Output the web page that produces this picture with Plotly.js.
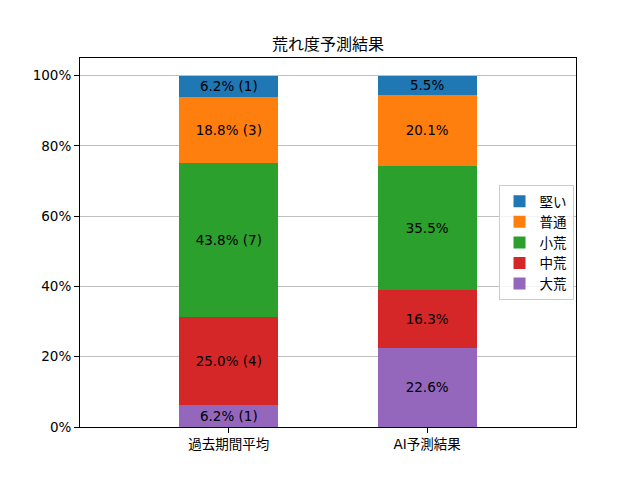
<!DOCTYPE html>
<html>
<head>
<meta charset="utf-8">
<script src="https://cdn.plot.ly/plotly-3.0.1.min.js"></script>
<style>
  body { margin: 0; background: #fff; }
  #chart { width: 640px; height: 480px; }
</style>
</head>
<body>
<div id="chart"></div>
<script>
// categories and series (bottom to top of the stack)
const categories = ["過去期間平均", "AI予測結果"];
const classes = ["大荒", "中荒", "小荒", "普通", "堅い"];
const colors = ["#9467bd", "#d62728", "#2ca02c", "#ff7f0e", "#1f77b4"];

// percent per class: [past average, AI prediction]
const pastPct = [6.2, 25.0, 43.8, 18.8, 6.2];
const pastCount = [1, 4, 7, 3, 1];
const aiPct = [22.6, 16.3, 35.5, 20.1, 5.5];

const font = "DejaVu Sans, Noto Sans CJK JP, sans-serif";

const traces = classes.map((name, i) => ({
  type: "bar",
  name: name,
  x: categories,
  y: [pastPct[i], aiPct[i]],
  width: 0.5,
  marker: { color: colors[i], line: { width: 0 } },
  text: [pastPct[i].toFixed(1) + "% (" + pastCount[i] + ")", aiPct[i].toFixed(1) + "%"],
  textposition: "inside",
  insidetextanchor: "middle",
  textangle: 0,
  constraintext: "none",
  textfont: { family: font, size: 13.5, color: "#000" },
  hoverinfo: "none"
}));

const layout = {
  width: 640,
  height: 480,
  margin: { l: 80, r: 64, t: 57.6, b: 52.8 },
  paper_bgcolor: "#fff",
  plot_bgcolor: "#fff",
  barmode: "stack",
  showlegend: true,
  font: { family: font, size: 13.5, color: "#000" },
  title: {
    text: "荒れ度予測結果",
    font: { family: font, size: 16, color: "#000" },
    x: 0.5125, xanchor: "center",
    y: 0.908, yanchor: "middle"
  },
  xaxis: {
    type: "category",
    range: [-0.75, 1.75],
    showline: true, linecolor: "#000", linewidth: 1, mirror: true,
    ticks: "outside", ticklen: 5, tickcolor: "#000",
    showgrid: false, zeroline: false,
    tickfont: { family: font, size: 13.5, color: "#000" }
  },
  yaxis: {
    range: [0, 105],
    tickvals: [0, 20, 40, 60, 80, 100],
    ticktext: ["0%", "20%", "40%", "60%", "80%", "100%"],
    showline: true, linecolor: "#000", linewidth: 1, mirror: true,
    ticks: "outside", ticklen: 5, tickcolor: "#000",
    showgrid: true, gridcolor: "#b0b0b0", gridwidth: 0.8,
    zeroline: false,
    tickfont: { family: font, size: 13.5, color: "#000" }
  },
  legend: {
    x: 0.995, xanchor: "right",
    y: 0.5, yanchor: "middle",
    traceorder: "reversed",
    bgcolor: "rgba(255,255,255,0.8)",
    bordercolor: "#cccccc", borderwidth: 1,
    font: { family: font, size: 13.5, color: "#000" },
    itemwidth: 30
  }
};

Plotly.newPlot("chart", traces, layout, { staticPlot: true });
</script>
</body>
</html>
